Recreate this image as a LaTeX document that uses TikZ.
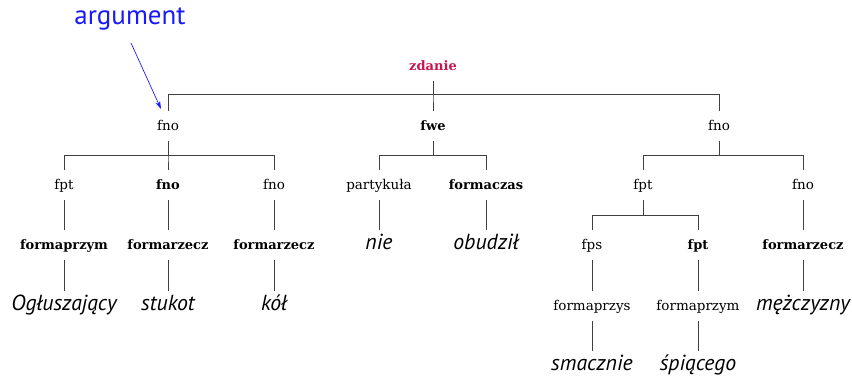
\documentclass[tikz,border=0pt]{standalone}
\usepackage{fontspec}
\newfontfamily\wordfont{PT Sans}
\newfontfamily\catfont{DejaVu Serif}
\usetikzlibrary{arrows.meta}
\definecolor{rootred}{RGB}{200,20,80}
\definecolor{argblue}{RGB}{25,25,255}
\begin{document}
\begin{tikzpicture}[x=1pt,y=-1pt,
  every node/.style={inner sep=0pt, outer sep=0pt, minimum height=30pt,
    text height=8pt, text depth=0pt, anchor=center},
  cat/.style={font=\catfont\fontsize{13.5}{16}\selectfont},
  head/.style={font=\catfont\bfseries\fontsize{13}{16}\selectfont},
  word/.style={font=\wordfont\itshape\fontsize{21.8}{24}\selectfont},
  edge/.style={draw=black!75, line width=0.9pt},
  note/.style={font=\wordfont\fontsize{27}{30}\selectfont, text=argblue},
]
\useasboundingbox (0,0) rectangle (852,378);

% root and first level
\node[head, text=rootred] (root) at (433,66) {zdanie};
\node[cat]  (a) at (168,126) {fno};
\node[head] (b) at (433,126) {fwe};
\node[cat]  (c) at (719,126) {fno};

% second level
\node[cat]  (a1) at (64,185)  {fpt};
\node[head] (a2) at (168,185) {fno};
\node[cat]  (a3) at (274,185) {fno};
\node[cat]  (b1) at (379,185) {partykuła};
\node[head] (b2) at (486,185) {formaczas};
\node[cat]  (c1) at (643,185) {fpt};
\node[cat]  (c2) at (803,185) {fno};

% third level
\node[head] (a1f) at (64,245)  {formaprzym};
\node[head] (a2f) at (168,245) {formarzecz};
\node[head] (a3f) at (274,245) {formarzecz};
\node[word] (b1w) at (379,245) {nie};
\node[word] (b2w) at (486,245) {obudził};
\node[cat]  (c11) at (592,245) {fps};
\node[head] (c12) at (698,245) {fpt};
\node[head] (c2f) at (803,245) {formarzecz};

% fourth level
\node[word] (a1w) at (64,306)  {Ogłuszający};
\node[word] (a2w) at (168,306) {stukot};
\node[word] (a3w) at (274,306) {kół};
\node[cat]  (c11f) at (592,306) {formaprzys};
\node[cat]  (c12f) at (698,306) {formaprzym};
\node[word] (c2w) at (803,306) {mężczyzny};

% fifth level
\node[word] (c11w) at (592,366) {smacznie};
\node[word] (c12w) at (698,366) {śpiącego};

% branches
\foreach \p/\c in {root/a, root/b, root/c}
  \draw[edge] (\p.south) -- ++(0,13) -| (\c.north);
\foreach \p/\c in {a/a1, a/a2, a/a3, b/b1, b/b2, c/c1, c/c2}
  \draw[edge] (\p.south) -- ++(0,14) -| (\c.north);
\foreach \p/\c in {c1/c11, c1/c12}
  \draw[edge] (\p.south) -- ++(0,15) -| (\c.north);
\foreach \p/\c in {a1/a1f, a2/a2f, a3/a3f, b1/b1w, b2/b2w, c2/c2f,
                   a1f/a1w, a2f/a2w, a3f/a3w, c11/c11f, c12/c12f, c2f/c2w,
                   c11f/c11w, c12f/c12w}
  \draw[edge] (\p.south) -- (\c.north);

% annotation
\node[note] (arg) at (130,20) {argument};
\coordinate (argtip) at (161,109);
\draw[argblue, line width=0.7pt, -{Stealth[length=8pt,width=5pt]}]
  ([shift={(1pt,-8pt)}]arg.south) -- (argtip);
\end{tikzpicture}
\end{document}
